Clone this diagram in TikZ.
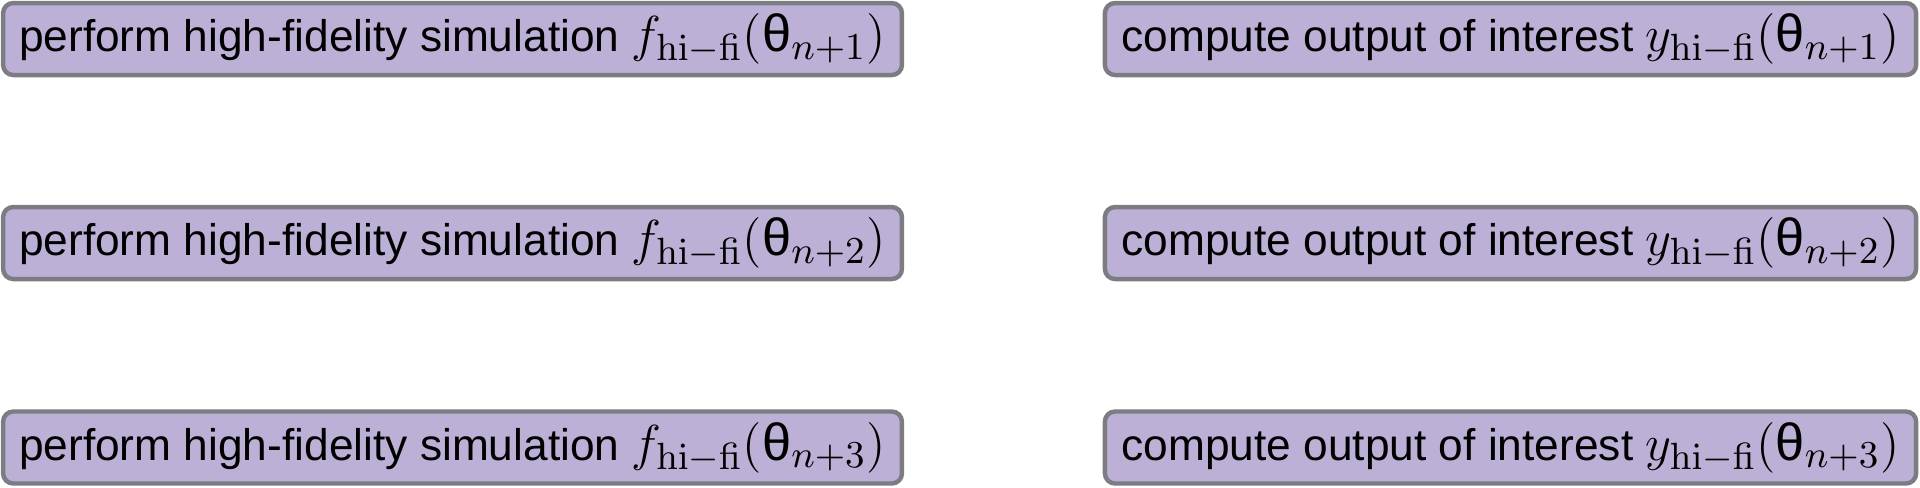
\documentclass[tikz,border=0pt]{standalone}
\usepackage[no-math]{fontspec}
\usepackage{amsmath}
\setsansfont{Liberation Sans}
\definecolor{boxfill}{RGB}{189,176,214}
\definecolor{boxline}{RGB}{124,124,130}
\newcommand{\hifi}[2]{{\fontsize{12.4}{13}\selectfont$#1_{\mathrm{hi-fi}}(\text{θ}_{n+#2})$}}
\begin{document}
\begin{tikzpicture}[inner sep=0pt,outer sep=0pt,
simblock/.style={draw=boxline,fill=boxfill,rectangle,rounded corners=2.4pt,line width=1.05pt,minimum width=7.49cm,minimum height=0.60cm,font=\sffamily\fontsize{10.5}{13}\selectfont},
outblock/.style={simblock,minimum width=6.76cm}]
\useasboundingbox (0,0) rectangle (16,4.0583);
\draw (3.771,3.733) node[simblock] (sim1) {perform high-fidelity simulation \hifi{f}{1}};
\draw (3.771,2.033) node[simblock] (sim2) {perform high-fidelity simulation \hifi{f}{2}};
\draw (3.771,0.329) node[simblock] (sim3) {perform high-fidelity simulation \hifi{f}{3}};
\draw (12.5875,3.733) node[outblock] (out1) {compute output of interest \hifi{y}{1}};
\draw (12.5875,2.033) node[outblock] (out2) {compute output of interest \hifi{y}{2}};
\draw (12.5875,0.329) node[outblock] (out3) {compute output of interest \hifi{y}{3}};
\end{tikzpicture}
\end{document}
